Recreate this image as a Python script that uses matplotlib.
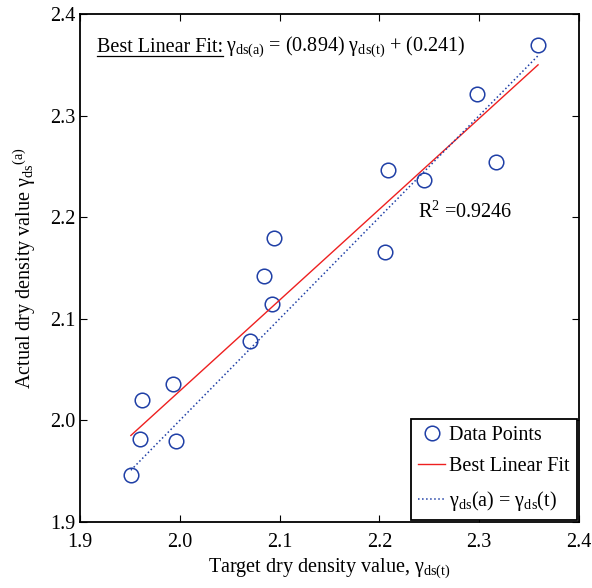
import numpy as np
import matplotlib
matplotlib.use("Agg")
from matplotlib import pyplot as plt

plt.rcParams['font.family'] = ['Liberation Serif', 'DejaVu Serif']
plt.rcParams['mathtext.fontset'] = 'custom'
plt.rcParams['mathtext.rm'] = 'Liberation Serif'
plt.rcParams['mathtext.it'] = 'Liberation Serif:italic'

# data
target = [1.951, 1.960, 1.962, 1.993, 1.996, 2.070, 2.084, 2.092, 2.094,
          2.206, 2.209, 2.245, 2.298, 2.317, 2.359]
actual = [1.946, 1.982, 2.020, 2.036, 1.980, 2.078, 2.142, 2.115, 2.180,
          2.166, 2.246, 2.237, 2.321, 2.254, 2.369]
slope = 0.894
intercept = 0.241
r2 = 0.9246

fs = 14.5
x = np.array(target)
xl = np.array([x.min(), x.max()])

fig = plt.figure(figsize=(5.92, 5.88), dpi=100)
ax = fig.add_axes([0.1351, 0.1122, 0.8429, 0.864])

ax.plot(target, actual, 'o', mfc='none', mec='#1f3fa6', ms=10.5, mew=1.1,
        label='Data Points')
ax.plot(xl, slope * xl + intercept, '-', color='#ee2020', lw=1,
        label='Best Linear Fit')
ax.plot(xl, xl, ':', color='#1f3fa6', lw=1.1,
        label=r'γ$_{\mathrm{ds}}$(a) = γ$_{\mathrm{ds}}$(t)')

ax.set_xlim(1.9, 2.4)
ax.set_ylim(1.9, 2.4)
ax.set_xticks(np.arange(1.9, 2.41, 0.1))
ax.set_yticks(np.arange(1.9, 2.41, 0.1))
ax.tick_params(direction='in', top=True, right=True, labelsize=fs, length=5)
ax.tick_params(axis='y', pad=3)
ax.tick_params(axis='x', pad=8)
for s in ax.spines.values():
    s.set_linewidth(1.3)

ax.set_xlabel(r'Target dry density value, γ$_{\mathrm{ds(t)}}$', fontsize=fs, labelpad=3)
ax.set_ylabel(r'Actual dry density value γ$_{\mathrm{ds}}$$^{\mathrm{(a)}}$', fontsize=fs, labelpad=9)

t1 = ax.text(1.917, 2.3675, 'Best Linear Fit:', fontsize=fs, va='center')
fig.canvas.draw()
bb = t1.get_window_extent().transformed(ax.transAxes.inverted())
ax.plot([bb.x0, bb.x1], [bb.y0 + 0.002, bb.y0 + 0.002], color='k', lw=0.9,
        transform=ax.transAxes)
ax.text(bb.x1 + 0.006, (bb.y0 + bb.y1) / 2,
        r'γ$_{\mathrm{ds(a)}}$ = (%.3f) γ$_{\mathrm{ds(t)}}$ + (%.3f)' % (slope, intercept),
        fontsize=fs, va='center', transform=ax.transAxes)

ax.text(2.2387, 2.205, r'R$^{2}$ =%.4f' % r2, fontsize=fs, va='center')

leg = ax.legend(loc='lower right', fontsize=fs, borderaxespad=0.1, fancybox=False,
                edgecolor='k', framealpha=1, handlelength=1.35, handletextpad=0.2,
                borderpad=0.35, labelspacing=0.62)
leg.get_frame().set_linewidth(1.3)

plt.savefig('out.png', dpi=100)
